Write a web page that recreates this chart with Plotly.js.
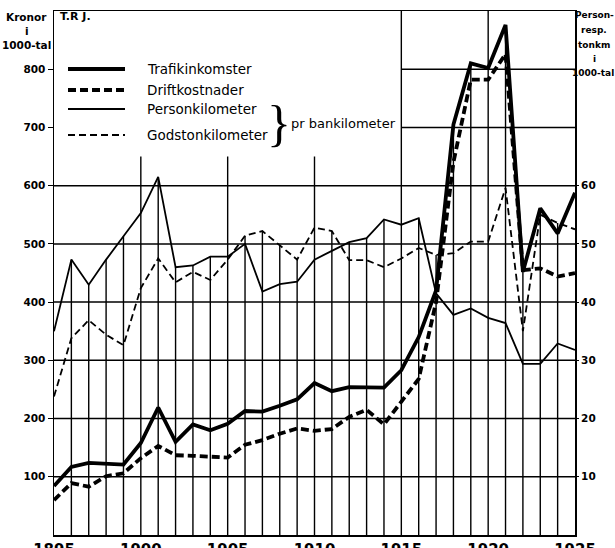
<!DOCTYPE html>
<html><head><meta charset="utf-8">
<script src="https://cdn.plot.ly/plotly-3.0.1.min.js"></script>
<style>html,body{margin:0;padding:0;background:#fff}</style>
</head><body><div id="chart" style="width:615px;height:548px"></div>
<script>
// ---- data ----
const years = [1895,1896,1897,1898,1899,1900,1901,1902,1903,1904,1905,1906,1907,1908,1909,1910,
               1911,1912,1913,1914,1915,1916,1917,1918,1919,1920,1921,1922,1923,1924,1925];
// Kronor i 1000-tal (left axis)
const trafikinkomster = [84,117,124,122,121,158,219,160,190,180,191,213,212,222,233,261,
                         247,254,253,253,283,340,420,705,810,802,876,452,561,518,588];
const driftkostnader  = [60,89,83,101,106,132,153,137,136,135,133,155,163,174,183,179,
                         182,203,215,190,229,268,400,640,782,782,826,455,458,444,450];
// Person- resp. tonkm i 1000-tal pr bankilometer (right axis)
const personkilometer = [35,47.3,43,47.3,51.3,55.3,61.5,46,46.3,47.8,47.8,50,41.8,43.1,43.5,47.3,
                         48.8,50.3,51,54.2,53.3,54.4,41.5,37.8,38.9,37.3,36.4,29.4,29.4,32.9,31.8];
const godstonkilometer = [23.8,33.8,36.9,34.4,32.6,42.4,47.5,43.4,45.2,43.8,47.3,51.4,52.2,49.8,47.3,52.8,
                          52.2,47.2,47.2,46,47.5,49.3,48.1,48.4,50.4,50.4,59.6,35,55,53.6,52.5];
const seriesNames = ['Trafikinkomster','Driftkostnader','Personkilometer','Godstonkilometer'];
const leftTicks  = [100,200,300,400,500,600,700,800];
const rightTicks = [10,20,30,40,50,60];
const yearTicks  = [1895,1900,1905,1910,1915,1920,1925];

// ---- layout helpers ----
const L = 54, R = 575, T = 11, B = 535;
const px = x => (x - L) / (R - L);
const py = y => (B - y) / (B - T);
const K = '#000';
const FONT = 'DejaVu Sans, Liberation Sans, Arial, sans-serif';

const shapes = [];
// horizontal rules
leftTicks.forEach(v => {
  shapes.push({type:'line', xref:'x', yref:'y', x0: v > 600 ? 1915 : 1895, x1: 1925, y0: v, y1: v,
               line:{color:K, width:1.5}, layer:'below'});
});
// vertical year rules, each rising to the highest curve of that year
years.forEach((yr, i) => {
  if (yr === years[0] || yr === years[years.length-1]) return;
  let top = Math.max(trafikinkomster[i], driftkostnader[i], personkilometer[i]*10, godstonkilometer[i]*10);
  if (yr % 5 === 0) top = yr >= 1915 ? 900 : Math.max(top, 650);
  shapes.push({type:'line', xref:'x', yref:'y', x0: yr, x1: yr, y0: 0, y1: top,
               line:{color:K, width:1.4}, layer:'below'});
});

// legend samples
const legendRows = [69, 90, 109, 135];
const legendStyles = [{w:3.8, d:'solid'}, {w:3.8, d:'8px,4px'}, {w:1.8, d:'solid'}, {w:1.8, d:'7px,4px'}];
legendRows.forEach((ry, k) => {
  shapes.push({type:'line', xref:'paper', yref:'paper', x0: px(68), x1: px(125), y0: py(ry), y1: py(ry),
               line:{color:K, width:legendStyles[k].w, dash:legendStyles[k].d}});
});

const ann = (text, x, y, size, opts = {}) => Object.assign({
  text, xref:'paper', yref:'paper', x: px(x), y: py(y), showarrow:false,
  xanchor:'center', yanchor:'middle',
  font:{family:FONT, size, color:K, weight: opts.bold === false ? 'normal' : 'bold'}
}, opts.extra || {});

const annotations = [
  ann('Kronor', 26, 17, 10.5),
  ann('i', 27, 31, 10.5),
  ann('1000-tal', 26, 45, 10.5),
  ann('T.R J.', 58, 17, 11, {extra:{xanchor:'left'}}),
  ann('Person-', 594, 15, 9),
  ann('resp.', 594, 30, 9),
  ann('tonkm', 594, 45, 9),
  ann('i', 594, 59, 9),
  ann('1000-tal', 593, 73, 9),
  ann('}', 279, 123, 50, {bold:false, extra:{font:{family:'Liberation Serif, serif', size:50, color:K}}}),
  ann('pr bankilometer', 289, 123, 13, {bold:false, extra:{xanchor:'left'}}),
];
legendRows.forEach((ry, k) => {
  annotations.push(ann(seriesNames[k], 145, ry, 13.5, {bold:false, extra:{xanchor:'left'}}));
});

const traces = [
  {x: years, y: trafikinkomster, name: seriesNames[0], mode:'lines', yaxis:'y',
   line:{color:K, width:3.8}},
  {x: years, y: driftkostnader, name: seriesNames[1], mode:'lines', yaxis:'y',
   line:{color:K, width:3.8, dash:'8px,4px'}},
  {x: years, y: personkilometer, name: seriesNames[2], mode:'lines', yaxis:'y2',
   line:{color:K, width:1.8}},
  {x: years, y: godstonkilometer, name: seriesNames[3], mode:'lines', yaxis:'y2',
   line:{color:K, width:1.8, dash:'7px,4px'}},
];

const layout = {
  width:615, height:548,
  margin:{l:L, r:615-R, t:T, b:548-B, pad:0},
  paper_bgcolor:'#fff', plot_bgcolor:'#fff',
  showlegend:false,
  xaxis:{range:[1895,1925], tickvals:yearTicks, ticktext:yearTicks.map(String),
         showgrid:false, zeroline:false, showline:true, linecolor:K, linewidth:1.5, mirror:true,
         ticks:'', tickfont:{family:FONT, size:15, color:K, weight:'bold'}},
  yaxis:{range:[0,900], tickvals:leftTicks, ticktext:leftTicks.map(String),
         showgrid:false, zeroline:false, showline:true, linecolor:K, linewidth:1.5, mirror:true,
         ticks:'outside', ticklen:5, tickwidth:1.2, tickcolor:K,
         tickfont:{family:FONT, size:10.5, color:K, weight:'bold'}},
  yaxis2:{range:[0,90], overlaying:'y', side:'right', tickvals:rightTicks, ticktext:rightTicks.map(String),
          showgrid:false, zeroline:false, showline:false,
          ticks:'outside', ticklen:3, tickwidth:1.2, tickcolor:K,
          tickfont:{family:FONT, size:10.5, color:K, weight:'bold'}},
  shapes, annotations
};

Plotly.newPlot('chart', traces, layout, {displayModeBar:false, staticPlot:true});
</script>
</body></html>
